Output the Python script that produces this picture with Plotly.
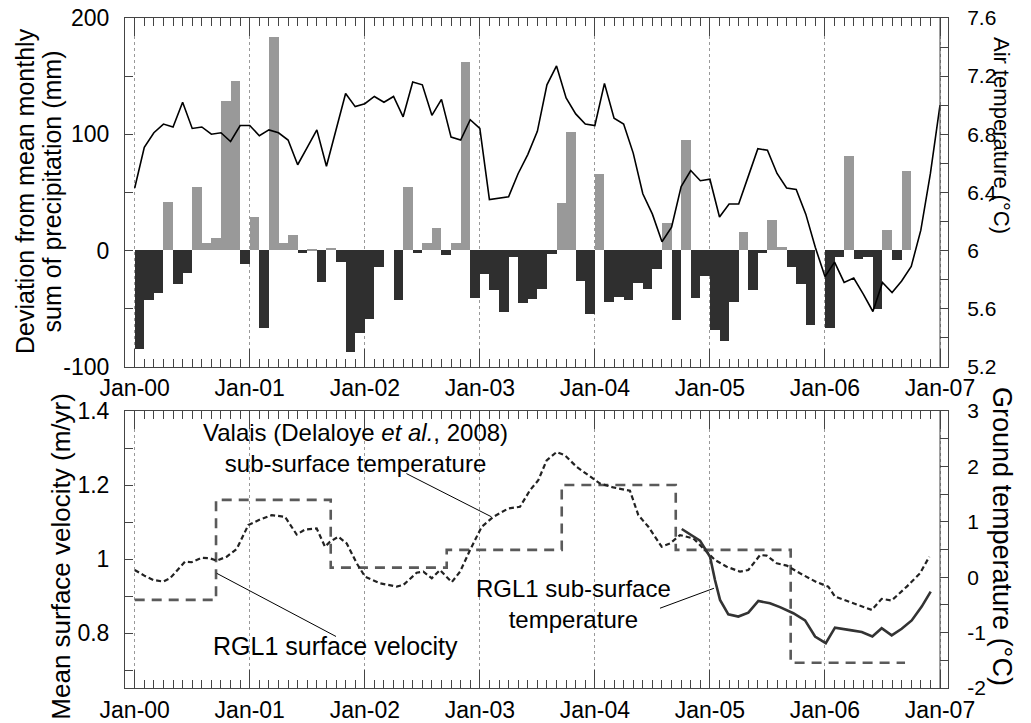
import numpy as np
import plotly.graph_objects as go

# ---------------- data ----------------
years = [2000, 2001, 2002, 2003, 2004, 2005, 2006, 2007]
year_labels = ["Jan-00", "Jan-01", "Jan-02", "Jan-03", "Jan-04", "Jan-05", "Jan-06", "Jan-07"]

# monthly deviation from mean monthly precipitation sum (mm), Jan-2000 .. Sep-2006
precip_dev = [
    -85, -43, -37, 42, -29, -19, 55, 6, 11, 129, 146, -12,      # 2000
    29, -67, 184, 6, 13, -2, 1, -27, 2, -10, -87, -71,          # 2001
    -59, -14, 0, -43, 55, -2, 6, 19, -4, 6, 162, -41,           # 2002
    -20, -34, -53, -6, -45, -42, -33, -3, 41, 102, -26, -55,    # 2003
    66, -44, -40, -43, -28, -33, -16, 24, -60, 95, -41, -22,    # 2004
    -68, -78, -44, 16, -34, -2, 26, 3, -14, -29, -64, 0,        # 2005
    -67, -6, 81, -7, -6, -50, 18, -8, 68,                       # 2006
]

# air temperature (deg C), monthly points Jan-2000 .. Jan-2007
air_temp = [
    6.43, 6.71, 6.81, 6.87, 6.85, 7.02, 6.84, 6.85, 6.80, 6.81, 6.75, 6.86,
    6.86, 6.79, 6.83, 6.81, 6.76, 6.59, 6.71, 6.83, 6.58, 6.83, 7.08, 6.99,
    7.01, 7.06, 7.02, 7.06, 6.92, 7.16, 7.14, 6.93, 7.04, 6.78, 6.76, 6.90,
    6.84, 6.35, 6.36, 6.37, 6.53, 6.66, 6.82, 7.14, 7.27, 7.05, 6.94, 6.87,
    6.86, 7.15, 6.91, 6.87, 6.67, 6.39, 6.25, 6.06, 6.16, 6.44, 6.55, 6.48,
    6.49, 6.23, 6.32, 6.32, 6.51, 6.70, 6.69, 6.53, 6.43, 6.42, 6.25, 6.02,
    5.82, 5.92, 5.78, 5.81, 5.70, 5.58, 5.78, 5.71, 5.79, 5.89, 6.14, 6.53,
    7.00,
]

# RGL1 mean surface velocity (m/yr), step periods (start times in decimal years)
vel_time = [2000.0, 2000.707, 2001.704, 2002.712, 2003.712, 2004.703, 2005.702, 2006.696]
vel_value = [0.89, 1.16, 0.977, 1.025, 1.20, 1.025, 0.72, 0.72]

# Valais sub-surface temperature (deg C)
valais_time = [
    2000.000, 2000.090, 2000.162, 2000.249, 2000.307, 2000.379, 2000.437, 2000.495,
    2000.582, 2000.655, 2000.713, 2000.800, 2000.887, 2000.987, 2001.089, 2001.191,
    2001.307, 2001.408, 2001.480, 2001.582, 2001.654, 2001.698, 2001.770, 2001.843,
    2001.930, 2002.002, 2002.132, 2002.277, 2002.335, 2002.451, 2002.509, 2002.582,
    2002.654, 2002.756, 2002.828, 2002.915, 2003.016, 2003.117, 2003.248, 2003.349,
    2003.436, 2003.508, 2003.581, 2003.668, 2003.740, 2003.842, 2003.958, 2004.045,
    2004.160, 2004.305, 2004.378, 2004.465, 2004.581, 2004.653, 2004.740, 2004.856,
    2004.943, 2005.044, 2005.146, 2005.262, 2005.334, 2005.436, 2005.494, 2005.581,
    2005.668, 2005.783, 2005.928, 2006.029, 2006.087, 2006.247, 2006.407, 2006.493,
    2006.580, 2006.711, 2006.826, 2006.907,
]
valais_temp = [
    0.13, 0.02, -0.05, -0.08, -0.02, 0.15, 0.28, 0.27,
    0.35, 0.34, 0.30, 0.37, 0.51, 0.94, 1.04, 1.12,
    1.09, 0.77, 0.86, 0.88, 0.55, 0.64, 0.73, 0.61,
    0.25, 0.01, -0.11, -0.17, -0.14, 0.08, 0.10, -0.02,
    0.13, -0.09, 0.10, 0.49, 0.91, 1.09, 1.24, 1.27,
    1.57, 1.75, 2.11, 2.26, 2.20, 1.99, 1.81, 1.69,
    1.62, 1.56, 1.12, 0.91, 0.55, 0.61, 0.76, 0.70,
    0.52, 0.31, 0.19, 0.10, 0.13, 0.40, 0.39, 0.25,
    0.21, 0.07, -0.09, -0.17, -0.35, -0.47, -0.59, -0.39,
    -0.42, -0.17, 0.07, 0.37,
]

# RGL1 sub-surface temperature (deg C)
rgl1_time = [
    2004.755, 2004.842, 2004.914, 2005.001, 2005.044, 2005.088, 2005.160, 2005.247,
    2005.334, 2005.421, 2005.522, 2005.609, 2005.725, 2005.827, 2005.914, 2006.007,
    2006.087, 2006.233, 2006.320, 2006.412, 2006.493, 2006.580, 2006.667, 2006.754,
    2006.841, 2006.919,
]
rgl1_temp = [
    0.87, 0.76, 0.66, 0.37, -0.05, -0.41, -0.67, -0.71,
    -0.64, -0.43, -0.47, -0.54, -0.65, -0.78, -1.07, -1.19,
    -0.91, -0.96, -0.99, -1.07, -0.92, -1.05, -0.93, -0.78,
    -0.53, -0.26,
]

# ---------------- style ----------------
FONT = "Liberation Sans, Arial, sans-serif"
AXC = "#444444"
POS_C = "#999999"
NEG_C = "#2f2f2f"
X_RANGE = [1999.9157, 2007.0695]

L, R, T, B = 125, 83, 18, 35
W, H = 1031, 723
PW, PH = W - L - R, H - T - B


def px_x(px):
    return (px - L) / PW


def px_y(py):
    return (H - B - py) / PH


fig = go.Figure()

n_bar = len(precip_dev)
bar_x = 2000 + (np.arange(n_bar) + 0.5) / 12.0
bar_colors = [POS_C if v > 0 else NEG_C for v in precip_dev]
fig.add_trace(go.Bar(x=bar_x, y=precip_dev, width=1 / 12.0, marker=dict(color=bar_colors, line=dict(width=0)),
                     xaxis="x", yaxis="y", hoverinfo="x+y"))

line_x = 2000 + np.arange(len(air_temp)) / 12.0
fig.add_trace(go.Scatter(x=line_x, y=air_temp, mode="lines", line=dict(color="black", width=1.6),
                         xaxis="x", yaxis="y2"))

fig.add_trace(go.Scatter(x=vel_time, y=vel_value, mode="lines", line=dict(color="#5a5a5a", width=2.6, dash="10px,7px", shape="hv"),
                         xaxis="x2", yaxis="y3"))
fig.add_trace(go.Scatter(x=valais_time, y=valais_temp, mode="lines", line=dict(color="#222222", width=2.2, dash="5px,3px"),
                         xaxis="x2", yaxis="y4"))
fig.add_trace(go.Scatter(x=rgl1_time, y=rgl1_temp, mode="lines", line=dict(color="#333333", width=2.6),
                         xaxis="x2", yaxis="y4"))

month_ticks = list(np.arange(1999 + 11 / 12.0, 2007.07, 1 / 12.0))

xcommon = dict(range=X_RANGE, tickmode="array", tickvals=years, ticktext=year_labels,
               ticks="inside", ticklen=18, tickcolor=AXC, tickwidth=1,
               showline=True, linecolor=AXC, linewidth=1, mirror="ticks",
               showgrid=True, gridcolor="#999999", griddash="dot", gridwidth=1, zeroline=False,
               tickfont=dict(size=23), ticklabelstandoff=1, automargin=False,
               minor=dict(tickmode="array", tickvals=month_ticks, ticks="inside", ticklen=8,
                          tickcolor=AXC, showgrid=False))

ycommon = dict(ticks="inside", ticklen=8, tickcolor=AXC, showline=True, linecolor=AXC, linewidth=1,
               showgrid=False, zeroline=False, automargin=False)

left_font = dict(size=23)
right_font = dict(size=21)

top_dom = [px_y(366.7), 1.0]
bot_dom = [0.0, px_y(411.0)]

fig.update_layout(
    width=W, height=H, margin=dict(l=L, r=R, t=T, b=B, autoexpand=False),
    plot_bgcolor="white", paper_bgcolor="white", showlegend=False,
    font=dict(family=FONT, size=23, color="black"),
    bargap=0,
    xaxis=dict(anchor="y", domain=[0, 1], **xcommon),
    xaxis2=dict(anchor="y3", domain=[0, 1], **xcommon),
    yaxis=dict(domain=top_dom, anchor="x", range=[-100, 200],
               tickmode="array", tickvals=[-100, 0, 100, 200], ticktext=["-100", "0", "100", "200"],
               minor=dict(tickmode="array", tickvals=[-50, 50, 150], ticks="inside", ticklen=8, tickcolor=AXC),
               tickfont=left_font, ticklabelstandoff=10, **ycommon),
    yaxis2=dict(overlaying="y", side="right", anchor="x", range=[5.2, 7.6],
                tickmode="array", tickvals=[5.2, 5.6, 6.0, 6.4, 6.8, 7.2, 7.6],
                ticktext=["5.2", "5.6", "6", "6.4", "6.8", "7.2", "7.6"],
                minor=dict(tickmode="array", tickvals=[5.4, 5.8, 6.2, 6.6, 7.0, 7.4], ticks="inside", ticklen=8, tickcolor=AXC),
                tickfont=right_font, ticklabelstandoff=14, **ycommon),
    yaxis3=dict(domain=bot_dom, anchor="x2", range=[0.652, 1.4],
                tickmode="array", tickvals=[0.8, 1.0, 1.2, 1.4], ticktext=["0.8", "1", "1.2", "1.4"],
                minor=dict(tickmode="array", tickvals=[0.7, 0.9, 1.1, 1.3], ticks="inside", ticklen=8, tickcolor=AXC),
                tickfont=left_font, ticklabelstandoff=10, **ycommon),
    yaxis4=dict(overlaying="y3", side="right", anchor="x2", range=[-2, 3],
                tickmode="array", tickvals=[-2, -1, 0, 1, 2, 3], ticktext=["-2", "-1", "0", "1", "2", "3"],
                minor=dict(tickmode="array", tickvals=[-1.5, -0.5, 0.5, 1.5, 2.5], ticks="inside", ticklen=8, tickcolor=AXC),
                tickfont=right_font, ticklabelstandoff=14, **ycommon),
)

# plot frame line at Jan-07 (inner right border) for both panels
shapes = [
    dict(type="line", xref="x", yref="y domain", x0=2007, x1=2007, y0=0, y1=1, line=dict(color=AXC, width=1)),
    dict(type="line", xref="x2", yref="y3 domain", x0=2007, x1=2007, y0=0, y1=1, line=dict(color=AXC, width=1)),
    # leader lines for labels
    dict(type="line", xref="x2", yref="y4", x0=2002.362, y0=1.87, x1=2003.101, y1=1.09, line=dict(color="black", width=1)),
    dict(type="line", xref="x2", yref="y4", x0=2000.713, y0=0.07, x1=2001.750, y1=-1.07, line=dict(color="black", width=1)),
    dict(type="line", xref="x2", yref="y4", x0=2004.566, y0=-0.56, x1=2005.035, y1=-0.20, line=dict(color="black", width=1)),
]
fig.update_layout(shapes=shapes)

ann = []
def txt(text, x, y, size=24, xref="x2", yref="y4"):
    ann.append(dict(text=text, x=x, y=y, xref=xref, yref=yref, showarrow=False, align="center",
                    xanchor="center", yanchor="middle", font=dict(size=size, family=FONT, color="black")))

txt("Valais (Delaloye <i>et al.</i>, 2008)<br>sub-surface temperature", 2001.915, 2.33)
txt("RGL1 surface velocity", 2001.749, -1.24, size=25)
txt("RGL1 sub-surface<br>temperature", 2003.815, -0.49)


def title(text, px, py, angle, size):
    ann.append(dict(text=text, x=px_x(px), y=px_y(py), xref="paper", yref="paper", showarrow=False,
                    textangle=angle, xanchor="center", yanchor="middle",
                    font=dict(size=size, family=FONT, color="black")))

title("Deviation from mean monthly", 25, 191, -90, 25)
title("sum of precipitation (mm)", 51, 191.5, -90, 25)
title("Air temperature (°C)", 1002, 135, 90, 22)
title("Mean surface velocity (m/yr)", 61, 556.7, -90, 26)
title("Ground temperature (°C)", 1002, 536, 90, 27)

fig.update_layout(annotations=ann)

fig.write_html("out.html", config={"displayModeBar": False},
               post_script="document.body.style.margin='0';")
